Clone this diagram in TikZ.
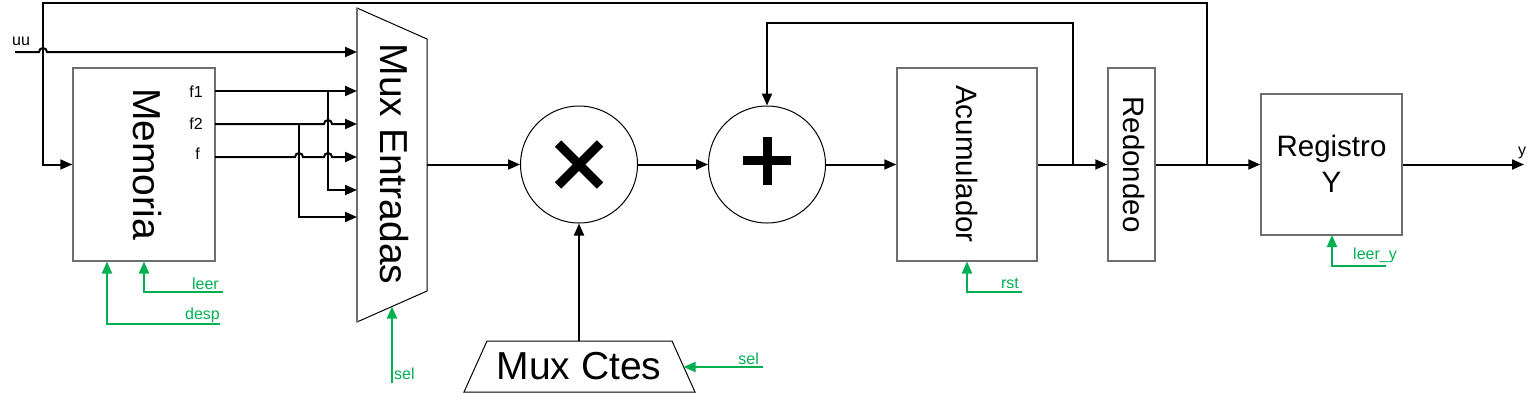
\documentclass[tikz,border=0pt]{standalone}
\usepackage{fontspec}
\setmainfont{Liberation Sans}
\usetikzlibrary{arrows.meta}
\definecolor{sgreen}{RGB}{0,176,80}
\definecolor{boxgray}{RGB}{110,110,110}
\begin{document}
\begin{tikzpicture}[x=1pt,y=-1pt,
  wire/.style={line width=2pt, black},
  arr/.style={wire, -{Triangle[length=12pt,width=10pt]}},
  ctl/.style={line width=2pt, sgreen, -{Triangle[length=12pt,width=10pt]}},
  blk/.style={draw=boxgray, line width=1.5pt, fill=white, inner sep=0pt},
  big/.style={font=\fontsize{39}{44}\selectfont, inner sep=0pt},
  mid/.style={font=\fontsize{29.5}{36}\selectfont, inner sep=0pt},
  small/.style={font=\fontsize{16}{18}\selectfont, inner sep=0pt},
  glab/.style={small, text=sgreen},
  opc/.style={circle, draw, line width=1pt, fill=white, minimum size=117pt, inner sep=0pt},
  sym/.style={line width=9pt, black},
]
\useasboundingbox (0,0) rectangle (1539,408);

% ---------- blocks ----------
\node[blk, minimum width=142pt, minimum height=193pt] (mem) at (144,164.5) {};
\node[big, rotate=-90] (memt) at (147.5,164) {Memoria};

\coordinate (meTL) at (357,8);
\coordinate (meTR) at (427,39);
\coordinate (meBR) at (427,291);
\coordinate (meBL) at (357,322);
\draw[line width=1pt, fill=white] (meTL) -- (meTR) -- (meBR) -- (meBL) -- cycle;
\draw[draw=boxgray, line width=1.5pt] (meTL) -- (meBL);
\node[big, rotate=-90] (muxe) at (394.5,164) {Mux Entradas};

\node[opc] (mult) at (579,164.5) {};
\draw[sym] (mult.center) ++(-21,-21) coordinate (mx1) -- ++(42,42);
\draw[sym] (mult.center) ++(21,-21) coordinate (mx2) -- ++(-42,42);

\node[opc] (add) at (767,164.5) {};
\draw[sym] (add.center) ++(-24,-4) coordinate (ax1) -- ++(48,0);
\draw[sym] (add.center) ++(0,-28) coordinate (ax2) -- ++(0,48);

\coordinate (mcTL) at (487,341);
\coordinate (mcTR) at (672,341);
\coordinate (mcBR) at (695,392);
\coordinate (mcBL) at (464,392);
\draw[line width=1pt, fill=white] (mcTL) -- (mcTR) -- (mcBR) -- (mcBL) -- cycle;
\node[big] (muxc) at (579,366) {Mux Ctes};

\node[blk, minimum width=140pt, minimum height=193pt] (acc) at (967,164.5) {};
\node[mid, rotate=-90] (acct) at (967.5,164) {Acumulador};

\node[blk, minimum width=47pt, minimum height=193pt] (red) at (1131.5,164.5) {};
\node[mid, rotate=-90] (redt) at (1134,164.5) {Redondeo};

\node[blk, minimum width=141pt, minimum height=141pt] (reg) at (1331.5,164.5) {};
\node[mid, align=center, anchor=north] (regt) at (1331.5,135) {Registro\\Y};

% ---------- coordinates ----------
\coordinate (meout) at (427,164.5);
\coordinate (in1) at (357,52);
\coordinate (in2) at (357,91);
\coordinate (in3) at (357,124);
\coordinate (in4) at (357,157);
\coordinate (in5) at (357,190);
\coordinate (in6) at (357,217);
\coordinate (o1) at (215,91);
\coordinate (o2) at (215,124);
\coordinate (o3) at (215,157);
\coordinate (uus) at (15,52);
\coordinate (j1) at (1207,164.5);
\coordinate (j1t) at (1207,3);
\coordinate (j0t) at (43,3);
\coordinate (j0b) at (43,164.5);
\coordinate (j2) at (1073,164.5);
\coordinate (j2t) at (1073,23);
\coordinate (j3t) at (767,23);
\coordinate (mcT) at (579,341);
\coordinate (yout) at (1524,164.5);
\coordinate (selEtip) at (392,306.5);
\coordinate (selEs) at (392,383);
\coordinate (selCtip) at (683.5,367);
\coordinate (selCs) at (763,367);

% ---------- data connectors ----------
\draw[arr] (uus) -- (39,52) arc[start angle=180,end angle=0,radius=4pt] -- (in1);
\draw[arr] (j1) -- (j1t) -- (j0t) -- (j0b) -- (mem.west);
\draw[arr] (o1) -- (in2);
\draw[arr] (328,91) -- (328,190) -- (in5);
\draw[arr] (o2) -- (324,124) arc[start angle=180,end angle=0,radius=4pt] -- (in3);
\draw[arr] (299,124) -- (299,217) -- (in6);
\draw[arr] (o3) -- (295,157) arc[start angle=180,end angle=0,radius=4pt]
  -- (324,157) arc[start angle=180,end angle=0,radius=4pt] -- (in4);
\draw[arr] (meout) -- (mult.west);
\draw[arr] (mcT) -- (mult.south);
\draw[arr] (mult.east) -- (add.west);
\draw[arr] (add.east) -- (acc.west);
\draw[arr] (acc.east) -- (red.west);
\draw[arr] (j2) -- (j2t) -- (j3t) -- (add.north);
\draw[arr] (red.east) -- (reg.west);
\draw[arr] (reg.east) -- (yout);

% ---------- control connectors ----------
\draw[ctl] (223,292) -- (144,292) -- (144,261.5);
\draw[ctl] (220,324) -- (107,324) -- (107,261.5);
\draw[ctl] (selEs) -- (selEtip);
\draw[ctl] (selCs) -- (selCtip);
\draw[ctl] (1022,292) -- (967,292) -- (967,261.5);
\draw[ctl] (1386,266) -- (1332,266) -- (1332,235);

% ---------- labels ----------
\node[small, anchor=base west] (luu) at (12,45) {uu};
\node[small, anchor=base east] (lf1) at (203,97) {f1};
\node[small, anchor=base east] (lf2) at (203,129) {f2};
\node[small, anchor=base east] (lf) at (200,159) {f};
\node[small, anchor=base west] (ly) at (1518,155) {y};
\node[glab, anchor=base east] (lleer) at (219,289) {leer};
\node[glab, anchor=base east] (ldesp) at (220,319) {desp};
\node[glab, anchor=base west] (lsel1) at (394,379) {sel};
\node[glab, anchor=base east] (lsel2) at (759,364) {sel};
\node[glab, anchor=base east] (lrst) at (1019,288) {rst};
\node[glab, anchor=base west] (lleery) at (1353,259) {leer\_y};
\end{tikzpicture}
\end{document}
